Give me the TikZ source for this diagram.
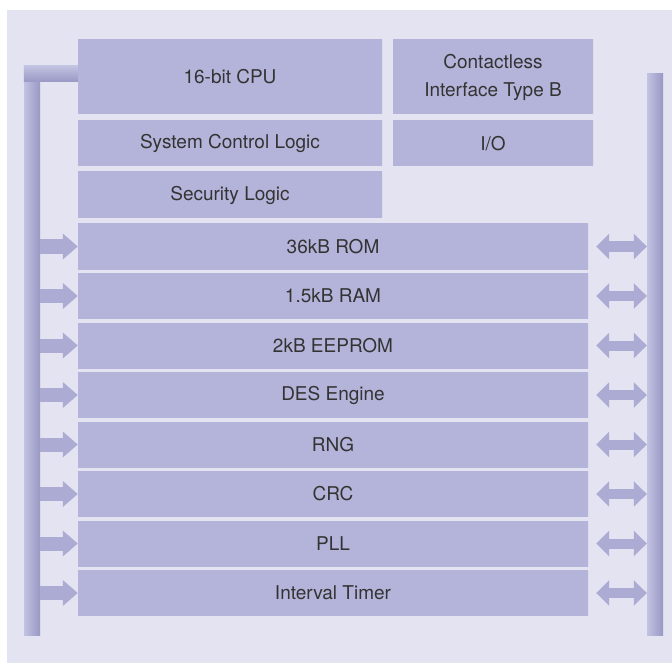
\documentclass[tikz,border=0pt]{standalone}
\usepackage{fontspec}
\setmainfont{TeX Gyre Heros}
\usepackage{tikz}
\usetikzlibrary{positioning}
\usetikzlibrary{arrows.meta}

\definecolor{bgc}{HTML}{E3E3F2}
\definecolor{boxc}{HTML}{B4B4DA}
\definecolor{boxlt}{HTML}{C0C0E2}
\definecolor{boxdk}{HTML}{8A8AB2}
\definecolor{busdk}{HTML}{9898C4}
\definecolor{buslt}{HTML}{C2C2E2}
\definecolor{arrc}{HTML}{ABABD3}
\definecolor{txtc}{HTML}{333333}
\pgfdeclareverticalshading{boxshade}{100bp}{color(0bp)=(boxdk); color(7bp)=(boxc); color(90bp)=(boxc); color(100bp)=(boxlt)}

\begin{document}
\begin{tikzpicture}[x=1pt, y=-1pt,
	block/.style={rectangle, shade, shading=boxshade, inner sep=0pt, text=txtc, font=\fontsize{19}{28}\selectfont, align=center},
	bus/.style={rectangle, inner sep=0pt, minimum width=16pt, left color=buslt, right color=busdk},
	toblock/.style={draw=arrc, line width=14pt, -{Triangle[length=15pt, width=25pt]}},
	twoway/.style={draw=arrc, line width=10pt, {Triangle[length=13pt, width=25pt]}-{Triangle[length=13pt, width=25pt]}}]
	\useasboundingbox (0, 0) rectangle (672, 663);
	\fill[bgc] (7, 10) rectangle (672, 663);
	% top blocks
	\node[block, minimum width=304pt, minimum height=74pt] (cpu) at (230, 77) {16-bit CPU};
	\node[block, minimum width=200pt, minimum height=74pt] (rf) at (493, 77) {Contactless\\Interface Type B};
	\node[block, minimum width=304pt, minimum height=45pt] (ctl) at (230, 143.5) {System Control Logic};
	\node[block, minimum width=200pt, minimum height=45pt] (io) at (493, 143.5) {I/O};
	\node[block, minimum width=304pt, minimum height=46pt] (sec) at (230, 195) {Security Logic};
	% buses
	\node[bus, minimum height=569pt] (lbus) at (32, 350.5) {};
	\node[bus, minimum height=561pt] (rbus) at (655, 354.5) {};
	\shade[top color=buslt, bottom color=busdk] (lbus.north west) rectangle (cpu.west |- 0, 82);
	% peripherals
	\foreach \name [count=\i] in {36kB ROM, 1.5kB RAM, 2kB EEPROM, DES Engine, RNG, CRC, PLL, Interval Timer} {
		\node[block, minimum width=510pt, minimum height=45pt] (p\i) at (333, 197 + 49.5*\i) {\name};
		\draw[toblock] (lbus.east |- p\i) to (p\i.west);
		\draw[twoway, shorten <=8pt] (p\i.east) to (rbus.west |- p\i);
	}
\end{tikzpicture}
\end{document}
